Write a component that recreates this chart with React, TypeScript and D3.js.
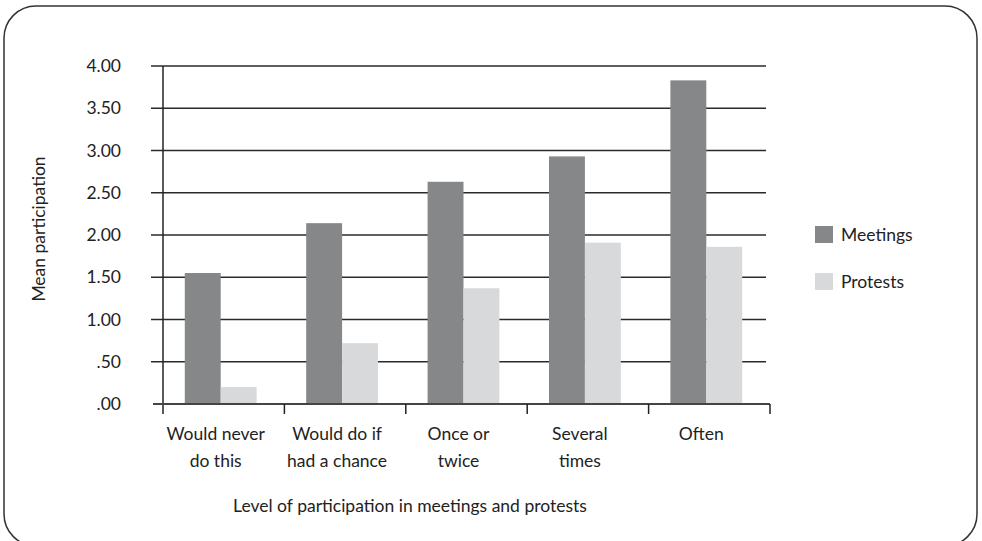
import React, { useEffect } from "react";
import * as d3 from "d3";

const categories = [
  ["Would never", "do this"],
  ["Would do if", "had a chance"],
  ["Once or", "twice"],
  ["Several", "times"],
  ["Often"],
];
const seriesNames = ["Meetings", "Protests"];
const meetings = [1.55, 2.14, 2.63, 2.93, 3.83];
const protests = [0.2, 0.72, 1.37, 1.91, 1.86];
const yTicks = [0, 0.5, 1, 1.5, 2, 2.5, 3, 3.5, 4];
const colors = ["#868789", "#d8d9db"];

const W = 982;
const H = 541;
const margin = { top: 66, right: 212, bottom: 137, left: 163 };
const FONT = "Lato, sans-serif";
const FS = 17.5;

const App: React.FC = () => {
  useEffect(() => {
    document.body.style.margin = "0";
  }, []);

  const innerW = W - margin.left - margin.right;
  const innerH = H - margin.top - margin.bottom;

  const x = d3
    .scaleBand<number>()
    .domain(categories.map((_, i) => i))
    .range([0, innerW]);
  const x1 = d3
    .scaleBand<number>()
    .domain([0, 1])
    .range([0, x.bandwidth()])
    .paddingInner(0)
    .paddingOuter(0.69);
  const y = d3.scaleLinear().domain([0, 4]).range([innerH, 0]);

  const fmt = (v: number) => (v < 1 ? d3.format(".2f")(v).replace(/^0/, "") : d3.format(".2f")(v));
  const series = [meetings, protests];
  const boundaries = d3.range(categories.length + 1).map((i) => (i < categories.length ? x(i)! : innerW));

  return (
    <svg width={W} height={H} style={{ display: "block" }} fontFamily={FONT}>
      <rect x={4} y={6} width={973} height={540} rx={32} ry={32} fill="#fff" stroke="#333" strokeWidth={1.5} />
      <g transform={`translate(${margin.left},${margin.top})`}>
        {yTicks.map((t) => (
          <g key={t}>
            {t > 0 && (
              <line x1={-12} x2={innerW - 4} y1={y(t)} y2={y(t)} stroke="#2a2a2a" strokeWidth={1.5} />
            )}
            <text x={-42} y={y(t)} dy="0.35em" textAnchor="end" fontSize={FS} fill="#222">
              {fmt(t)}
            </text>
          </g>
        ))}
        {series.map((vals, s) =>
          vals.map((v, i) => (
            <rect
              key={`${s}-${i}`}
              x={x(i)! + x1(s)! - 3}
              y={y(v)}
              width={x1.bandwidth()}
              height={innerH - y(v)}
              fill={colors[s]}
            />
          ))
        )}
        <line x1={0} x2={0} y1={0} y2={innerH + 10} stroke="#222" strokeWidth={1.5} />
        <line x1={-10} x2={innerW} y1={innerH} y2={innerH} stroke="#444" strokeWidth={2} />
        {boundaries.slice(1).map((b, i) => (
          <line key={i} x1={b} x2={b} y1={innerH} y2={innerH + 10} stroke="#222" strokeWidth={1.5} />
        ))}
        {categories.map((lines, i) => (
          <text key={i} x={x(i)! + x.bandwidth() / 2 - 8} y={innerH + 36} textAnchor="middle" fontSize={FS} fill="#222">
            {lines.map((l, j) => (
              <tspan key={j} x={x(i)! + x.bandwidth() / 2 - 8} dy={j === 0 ? 0 : 27}>
                {l}
              </tspan>
            ))}
          </text>
        ))}
        <text x={410 - margin.left} y={innerH + 108} textAnchor="middle" fontSize={FS} fill="#222">
          Level of participation in meetings and protests
        </text>
        <text
          transform={`translate(${45 - margin.left},${(innerH / 2) - 6}) rotate(-90)`}
          textAnchor="middle"
          fontSize={FS}
          fill="#222"
        >
          Mean participation
        </text>
      </g>
      <g transform="translate(815,226)">
        {seriesNames.map((n, i) => (
          <g key={n} transform={`translate(0,${i * 47})`}>
            <rect width={18} height={17} fill={colors[i]} />
            <text x={26} y={9} dy="0.35em" fontSize={FS} fill="#222">
              {n}
            </text>
          </g>
        ))}
      </g>
    </svg>
  );
};

export default App;
